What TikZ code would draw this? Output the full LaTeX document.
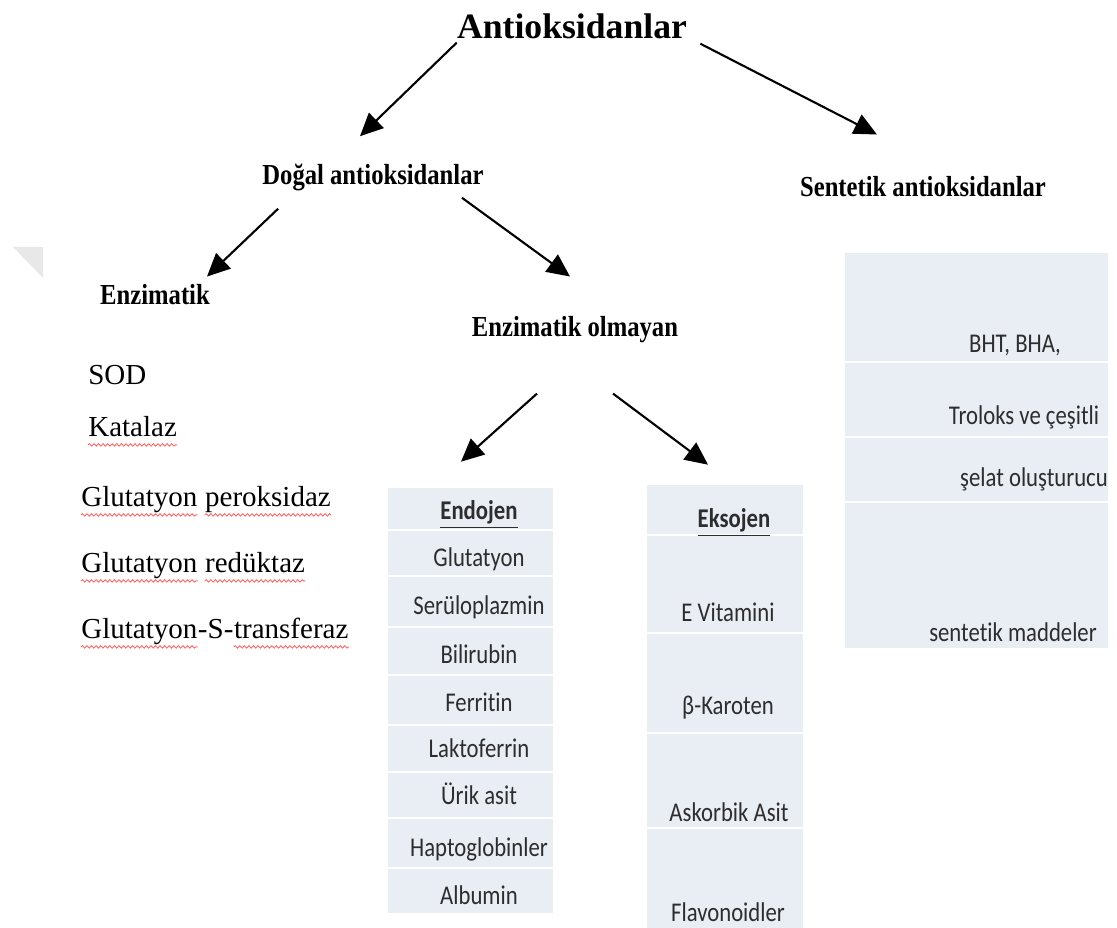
\documentclass[tikz,border=0pt]{standalone}
\usepackage{fontspec}
\usetikzlibrary{arrows.meta,decorations.pathmorphing}
\setmainfont{Liberation Serif}
\newfontfamily\headfont[FakeStretch=0.85]{Liberation Serif}
\newfontfamily\tabfont[FakeStretch=0.84,Ligatures=NoCommon]{Carlito}
\definecolor{cellbg}{RGB}{233,237,244}
\definecolor{tabtext}{RGB}{45,45,45}

\tikzset{
  arr/.style={line width=1.2pt,-{Triangle[length=13pt,width=12pt]}},
  title/.style={anchor=base,inner sep=0pt,font=\bfseries\fontsize{20.3}{24}\selectfont},
  head/.style={anchor=base,inner sep=0pt,font=\headfont\bfseries\fontsize{16.5}{20}\selectfont},
  item/.style={anchor=base west,inner sep=0pt,font=\fontsize{16.5}{20}\selectfont},
  wave/.style={red!60,line width=0.5pt,decorate,decoration={snake,amplitude=0.7pt,segment length=2.6pt}},
  tab/.style={fill=cellbg,inner sep=0pt},
  sepline/.style={white,line width=1.2pt},
  cell/.style={anchor=base,inner sep=0pt,text=tabtext,font=\tabfont\fontsize{15.4}{18}\selectfont}
}

\begin{document}
\begin{tikzpicture}[x=0.02cm,y=-0.02cm]
\useasboundingbox (0,0) rectangle (1117,928);
\fill[black!9] (13,247)--(43,247)--(43,278)--cycle;

% headings
\node[title] (root) at (572,39) {Antioksidanlar};
\node[head] (dogal) at (373,185) {Doğal antioksidanlar};
\node[head] (sent) at (923,197) {Sentetik antioksidanlar};
\node[head] (enz) at (155,305) {Enzimatik};
\node[head] (nonenz) at (575,337) {Enzimatik olmayan};

% enzimatik
\node[item] (sod) at (88,385) {SOD};
\node[item] (katalaz) at (88,437) {Katalaz};
\node[item] (gp) at (81,507) {Glutatyon};
\node[item] (gp2) at ([xshift=4.1pt]gp.base east) {peroksidaz};
\node[item] (gr) at (81,573) {Glutatyon};
\node[item] (gr2) at ([xshift=4.1pt]gr.base east) {redüktaz};
\node[item] (gst) at (81,639) {Glutatyon};
\node[item] (gst2) at (gst.base east) {-S-};
\node[item] (gst3) at (gst2.base east) {transferaz};
\foreach \w in {katalaz,gp,gp2,gr,gr2,gst,gst3}
  \draw[wave] ([yshift=-4.5pt]\w.base west) -- ([yshift=-4.5pt]\w.base east);

% endojen
\node[tab,minimum width=3.3cm,minimum height=8.5cm] (endo) at (470.5,700.5) {};
\foreach \y in {530,576,627,675,725,772,818,868}
  \draw[sepline] (endo.west |- 0,\y) -- (endo.east |- 0,\y);
\foreach \txt/\y [count=\i] in {{\underline{\textbf{Endojen}}}/520,Glutatyon/567,Serüloplazmin/615,Bilirubin/664,Ferritin/712,Laktoferrin/758,Ürik asit/805,Haptoglobinler/857,Albumin/905}
  \node[cell] (en\i) at (479,\y) {\txt};

% eksojen
\node[tab,minimum width=3.12cm,minimum height=8.86cm] (ekso) at (725,706.5) {};
\foreach \y in {535,633,733,828}
  \draw[sepline] (ekso.west |- 0,\y) -- (ekso.east |- 0,\y);
\foreach \txt/\x/\y [count=\i] in {{\underline{\textbf{Eksojen}}}/734/528,E Vitamini/728/622,β-Karoten/728/715,Askorbik Asit/729/822,Flavonoidler/728/922}
  \node[cell] (ek\i) at (\x,\y) {\txt};

% sentetik
\node[tab,minimum width=5.26cm,minimum height=7.9cm] (senttab) at (976.5,450.5) {};
\foreach \y in {362,437,502}
  \draw[sepline] (senttab.west |- 0,\y) -- (senttab.east |- 0,\y);
\foreach \txt/\x/\y [count=\i] in {{BHT, BHA,}/1015/353,Troloks ve çeşitli/1024/425,şelat oluşturucu/1034/487,sentetik maddeler/1013/642}
  \node[cell] (st\i) at (\x,\y) {\txt};

% arrows
\draw[arr] ([shift={(0,3)}]root.south west) -- ([shift={(-13,-28)}]dogal.north);
\draw[arr] ([shift={(13,4)}]root.south east) -- ([shift={(-46,-42)}]sent.north);
\draw[arr] ([shift={(16,17)}]dogal.south west) -- ([shift={(52,-8)}]enz.north);
\draw[arr] ([shift={(-22,6)}]dogal.south east) -- ([shift={(-5,-40)}]nonenz.north);
\draw[arr] ([shift={(-38,50)}]nonenz.south) -- ([shift={(-9.5,-26)}]endo.north);
\draw[arr] ([shift={(38,50)}]nonenz.south) -- ([shift={(-17,-20)}]ekso.north);
\end{tikzpicture}
\end{document}
